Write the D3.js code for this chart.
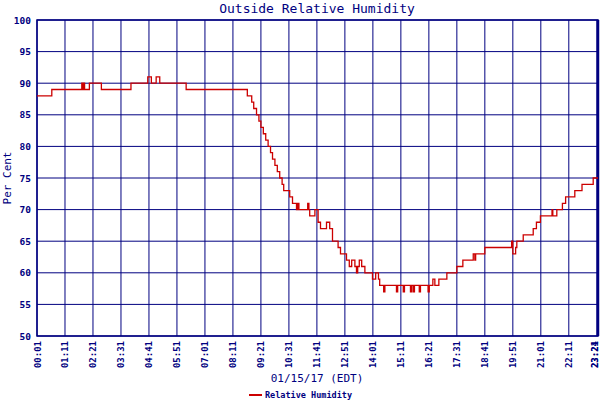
<!DOCTYPE html>
<html><head><meta charset="utf-8">
<script src="https://cdn.jsdelivr.net/npm/d3@7"></script>
<style>body{margin:0;background:#fff}text{font-family:"DejaVu Sans Mono",monospace;fill:#000080}</style>
</head><body><svg id="c" width="600" height="400"></svg>
<script>
const stepTimes = ["00:01","00:38","01:53","01:56","01:58","02:00","02:12","02:42","03:56","04:38","04:47","04:59","05:08","06:14","08:47","08:58","09:03","09:10","09:16","09:21","09:27","09:33","09:39","09:45","09:50","09:56","10:02","10:08","10:14","10:18","10:33","10:40","10:50","10:53","10:56","11:18","11:21","11:23","11:36","11:44","11:50","12:05","12:13","12:20","12:34","12:40","12:55","13:02","13:08","13:16","13:20","13:23","13:27","13:33","13:41","14:00","14:08","14:15","14:18","14:28","14:31","15:00","15:03","15:17","15:20","15:35","15:38","15:42","15:45","15:57","16:00","16:19","16:22","16:31","16:36","16:46","17:06","17:31","17:46","18:12","18:16","18:18","18:41","19:48","19:51","19:58","20:01","20:17","20:42","20:50","21:00","21:29","21:31","21:41","21:55","22:03","22:26","22:44","23:12","23:24"];
const stepValues = [88,89,90,89,90,89,90,89,90,91,90,91,90,89,88,87,86,85,84,83,82,81,80,79,78,77,76,75,74,73,72,71,70,71,70,71,70,69,70,68,67,68,67,65,64,63,62,61,62,61,60,61,62,61,60,59,60,59,58,57,58,57,58,57,58,57,58,57,58,57,58,57,58,59,58,59,60,61,62,63,62,63,64,65,63,64,65,66,67,68,69,70,69,70,71,72,73,74,75,75];
const xTickLabels = ["00:01","01:11","02:21","03:31","04:41","05:51","07:01","08:11","09:21","10:31","11:41","12:51","14:01","15:11","16:21","17:31","18:41","19:51","21:01","22:11","23:21","23:24"];
const yTicks = [50,55,60,65,70,75,80,85,90,95,100];

const toMin = s => { const [h,m] = s.split(":").map(Number); return h*60+m; };
const data = stepTimes.map((t,i)=>({m:toMin(t), v:stepValues[i]}));
const svg = d3.select("#c");
const L=37,R=598,T=20,B=336;
const x = d3.scaleLinear().domain([1, toMin("23:24")]).range([L,R]);
const y = d3.scaleLinear().domain([50,100]).range([B,T]);
const navy="#000080";

const g = svg.append("g");
g.selectAll(".hy").data(yTicks).join("line").attr("x1",L).attr("x2",R).attr("y1",d=>y(d)).attr("y2",d=>y(d)).attr("stroke",navy);
g.selectAll(".vx").data(xTickLabels).join("line").attr("x1",d=>x(toMin(d))).attr("x2",d=>x(toMin(d))).attr("y1",T).attr("y2",B).attr("stroke",navy);
g.append("rect").attr("x",L).attr("y",T).attr("width",R-L).attr("height",B-T).attr("fill","none").attr("stroke",navy).attr("stroke-width",1.5);
g.append("line").attr("x1",R).attr("x2",R).attr("y1",T).attr("y2",B).attr("stroke",navy).attr("stroke-width",2.5);

g.selectAll(".yl").data(yTicks).join("text").attr("x",L-6).attr("y",d=>y(d)+3.5).attr("text-anchor","end").attr("font-size",9.5).attr("font-weight","bold").text(d=>d);
g.selectAll(".xl").data(xTickLabels).join("text")
 .attr("transform",d=>`translate(${Math.min(x(toMin(d))+3.5, 597.5)},${B+5}) rotate(-90)`)
 .attr("text-anchor","end").attr("font-size",9).attr("font-weight","bold").text(d=>d);

const line = d3.line().x(d=>x(d.m)).y(d=>y(d.v)).curve(d3.curveStepAfter);
g.append("path").datum(data).attr("d",line).attr("fill","none").attr("stroke","#cc0000").attr("stroke-width",1.3);

svg.append("text").attr("x",317).attr("y",13).attr("text-anchor","middle").attr("font-size",13).text("Outside Relative Humidity");
svg.append("text").attr("transform","translate(11,178) rotate(-90)").attr("text-anchor","middle").attr("font-size",11).text("Per Cent");
svg.append("text").attr("x",317).attr("y",382).attr("text-anchor","middle").attr("font-size",11).text("01/15/17 (EDT)");
svg.append("line").attr("x1",249).attr("x2",262).attr("y1",395).attr("y2",395).attr("stroke","#cc0000").attr("stroke-width",2);
svg.append("text").attr("x",265).attr("y",398).attr("font-size",8.5).attr("font-weight","bold").text("Relative Humidity");
</script></body></html>
